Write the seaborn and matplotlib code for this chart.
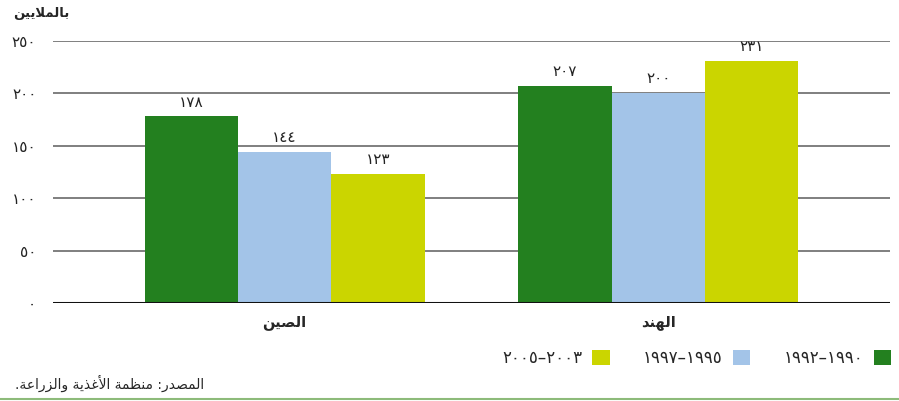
import matplotlib
matplotlib.use("Agg")
import matplotlib.pyplot as plt
import seaborn as sns
import pandas as pd
from matplotlib.patches import Patch
from matplotlib.lines import Line2D

# ---- data ----
# category labels (pre-shaped Arabic presentation forms, visual order)
categories = ["\uFEE6\uFEF4\uFEBC\uFEDF\uFE8D",   # الصين
              "\uFEAA\uFEE8\uFEEC\uFEDF\uFE8D"]   # الهند
periods = ["١٩٩٢–١٩٩٠", "١٩٩٧–١٩٩٥", "٢٠٠٥–٢٠٠٣"]
values_1990 = [178, 207]
values_1995 = [144, 200]
values_2003 = [123, 231]
yticks = [0, 50, 100, 150, 200, 250]
ylabel = "\uFEE6\uFEF4\uFEF3\uFEFC\uFEE4\uFEDF\uFE8E\uFE91"  # بالملايين
source = ("." + "\uFE94\uFECB\uFE8D\uFEAD\uFEB0\uFEDF\uFE8D\uFEED" + " "
          + "\uFE94\uFEF3\uFEAC\uFECF\uFEF7\uFE8D" + " "
          + "\uFE94\uFEE4\uFEC8\uFEE8\uFEE3" + " "
          + ":" + "\uFEAD\uFEAA\uFEBC\uFEE4\uFEDF\uFE8D")  # المصدر: منظمة الأغذية والزراعة.
colors = ["#23801f", "#a3c4e8", "#cbd500"]

AR = str.maketrans("0123456789", "٠١٢٣٤٥٦٧٨٩")

rows = []
for i, c in enumerate(categories):
    for p, vals in zip(periods, [values_1990, values_1995, values_2003]):
        rows.append({"cat": c, "period": p, "value": vals[i]})
df = pd.DataFrame(rows)

sns.set_theme(style="white")
plt.rcParams["font.family"] = ["DejaVu Sans"]

fig = plt.figure(figsize=(8.99, 4.01), dpi=100)
ax = fig.add_axes([53/899, 1-303/401, (890-53)/899, (303-41)/401])

sns.barplot(data=df, x="cat", y="value", hue="period", palette=colors,
            width=0.75, gap=0, ax=ax, legend=False, saturation=1,
            edgecolor="none", linewidth=0)

for cont in ax.containers:
    labs = [str(int(round(b.get_height()))).translate(AR) for b in cont]
    ax.bar_label(cont, labels=labs, padding=5, fontsize=11, color="#222222")

ax.set_xlim(-0.62, 1.62)
ax.set_ylim(0, 250)
ax.set_yticks(yticks)
ax.set_yticklabels([str(t).translate(AR) for t in yticks], fontsize=11,
                   color="#222222")
ax.set_axisbelow(True)
ax.yaxis.grid(True, color="#7f7f7f", linewidth=1.4)
ax.axhline(0, color="#111111", linewidth=2.2, zorder=5)
for s in ax.spines.values():
    s.set_visible(False)
ax.tick_params(axis="y", length=0, pad=12)
ax.tick_params(axis="x", length=0, pad=9)
for t in ax.get_xticklabels():
    t.set_fontweight("bold")
    t.set_fontsize(10.5)
ax.set_xlabel("")
ax.set_ylabel("")

fig.text(13/899, 1-14/401, ylabel, ha="left", va="center", fontsize=9.5,
         fontweight="bold")

handles = [Patch(facecolor=colors[2], edgecolor="none"),
           Patch(facecolor=colors[1], edgecolor="none"),
           Patch(facecolor=colors[0], edgecolor="none")]
labels = [periods[2], periods[1], periods[0]]
fig.legend(handles, labels, ncol=3, markerfirst=False, frameon=False,
           loc="center right", bbox_to_anchor=(891/899, 1-358/401),
           fontsize=12, handlelength=1.05, handleheight=1.05,
           columnspacing=2.0, handletextpad=0.6, borderpad=0,
           borderaxespad=0)

fig.text(15/899, 1-383/401, source, ha="left", va="center", fontsize=10)
fig.add_artist(Line2D([0, 1], [1-399/401, 1-399/401], color="#8dbb7a",
                      linewidth=1.5, transform=fig.transFigure))

fig.savefig("out.png", dpi=100)
